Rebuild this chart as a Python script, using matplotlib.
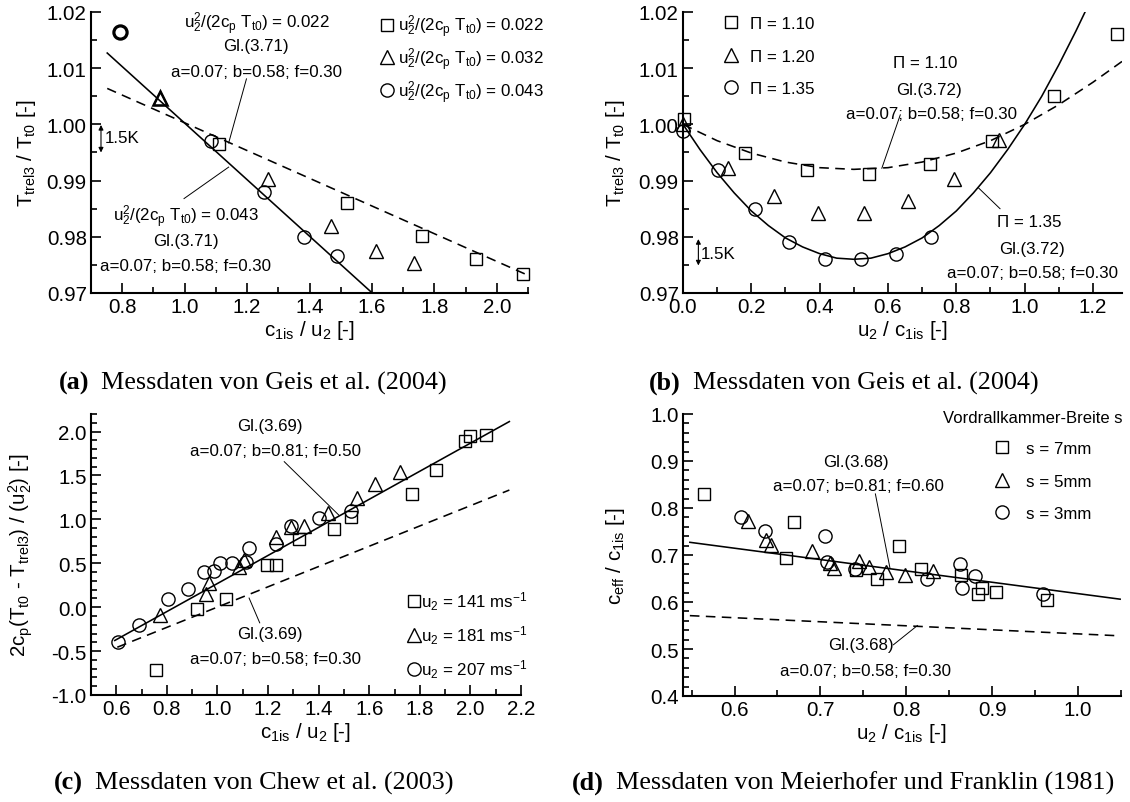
import matplotlib
matplotlib.use("Agg")
import matplotlib.pyplot as plt
from matplotlib.ticker import MultipleLocator, FormatStrFormatter

plt.rcParams['font.family'] = ['Liberation Sans', 'DejaVu Sans']
plt.rcParams['mathtext.fontset'] = 'custom'
plt.rcParams['mathtext.rm'] = 'Liberation Sans'
plt.rcParams['mathtext.it'] = 'Liberation Sans:italic'
plt.rcParams['mathtext.bf'] = 'Liberation Sans:bold'
plt.rcParams['axes.unicode_minus'] = False

# --- (a) Geis et al. (2004): T_trel3/T_t0 over c1is/u2 ---
a_sq_x = [1.109, 1.519, 1.762, 1.934, 2.083]
a_sq_y = [0.9966, 0.9860, 0.9801, 0.9761, 0.9734]
a_tri_x = [0.920, 1.267, 1.469, 1.612, 1.736]
a_tri_y = [1.0047, 0.9903, 0.9820, 0.9775, 0.9753]
a_cir_x = [0.792, 1.084, 1.255, 1.381, 1.488]
a_cir_y = [1.0164, 0.9971, 0.9880, 0.9800, 0.9766]
a_solid_x = [0.752, 1.599]
a_solid_y = [1.0127, 0.9701]
a_dash_x = [0.752, 2.102]
a_dash_y = [1.0064, 0.9731]
a_labels = ['u$_\\mathregular{2}^\\mathregular{2}$/(2c$_\\mathregular{p}$ T$_\\mathregular{t0}$) = 0.022',
            'u$_\\mathregular{2}^\\mathregular{2}$/(2c$_\\mathregular{p}$ T$_\\mathregular{t0}$) = 0.032',
            'u$_\\mathregular{2}^\\mathregular{2}$/(2c$_\\mathregular{p}$ T$_\\mathregular{t0}$) = 0.043']

# --- (b) Geis et al. (2004): T_trel3/T_t0 over u2/c1is ---
b_sq_x = [0.002, 0.181, 0.362, 0.543, 0.724, 0.905, 1.085, 1.269]
b_sq_y = [1.0010, 0.9949, 0.9919, 0.9911, 0.9930, 0.9970, 1.0050, 1.0160]
b_tri_x = [0.0, 0.132, 0.266, 0.396, 0.529, 0.659, 0.793, 0.925]
b_tri_y = [1.0001, 0.9922, 0.9872, 0.9842, 0.9842, 0.9863, 0.9902, 0.9972]
b_cir_x = [0.0, 0.103, 0.210, 0.311, 0.415, 0.520, 0.623, 0.726]
b_cir_y = [0.9989, 0.9918, 0.9850, 0.9790, 0.9760, 0.9760, 0.9770, 0.9800]
b_solid_x = [0.0, 0.05, 0.1, 0.15, 0.2, 0.25, 0.3, 0.35, 0.4, 0.45, 0.5, 0.55, 0.6,
             0.65, 0.7, 0.75, 0.8, 0.85, 0.9, 0.95, 1.0, 1.05, 1.1, 1.15, 1.18]
b_solid_y = [1.0000, 0.9955, 0.9914, 0.9878, 0.9846, 0.9820, 0.9798, 0.9782, 0.9770,
             0.9762, 0.9760, 0.9762, 0.9770, 0.9782, 0.9798, 0.9820, 0.9846, 0.9878,
             0.9914, 0.9955, 1.0000, 1.0050, 1.0106, 1.0166, 1.0204]
b_dash_x = [0.0, 0.1, 0.2, 0.3, 0.4, 0.5, 0.6, 0.7, 0.8, 0.9, 1.0, 1.1, 1.2, 1.285]
b_dash_y = [1.0000, 0.9971, 0.9949, 0.9933, 0.9923, 0.9920, 0.9923, 0.9933, 0.9949,
            0.9971, 1.0000, 1.0035, 1.0075, 1.0112]
b_labels = ['\u03a0 = 1.10', '\u03a0 = 1.20', '\u03a0 = 1.35']

# --- (c) Chew et al. (2003) ---
c_sq_x = [0.757, 0.920, 1.032, 1.195, 1.232, 1.324, 1.459, 1.528, 1.769, 1.863, 1.980, 1.998, 2.061]
c_sq_y = [-0.71, -0.02, 0.09, 0.48, 0.48, 0.78, 0.89, 1.03, 1.29, 1.56, 1.89, 1.95, 1.96]
c_tri_x = [0.771, 0.956, 0.968, 1.085, 1.104, 1.230, 1.292, 1.343, 1.438, 1.552, 1.622, 1.723]
c_tri_y = [-0.09, 0.15, 0.27, 0.46, 0.54, 0.80, 0.91, 0.92, 1.07, 1.24, 1.40, 1.54]
c_cir_x = [0.607, 0.690, 0.806, 0.885, 0.945, 0.986, 1.010, 1.059, 1.114, 1.125, 1.230, 1.292, 1.403, 1.528]
c_cir_y = [-0.40, -0.20, 0.09, 0.21, 0.40, 0.41, 0.50, 0.50, 0.52, 0.67, 0.72, 0.92, 1.02, 1.10]
c_solid_x = [0.594, 2.154]
c_solid_y = [-0.379, 2.114]
c_dash_x = [0.604, 2.154]
c_dash_y = [-0.456, 1.334]
c_labels = ['u$_\\mathregular{2}$ = 141 ms$^\\mathregular{-1}$',
            'u$_\\mathregular{2}$ = 181 ms$^\\mathregular{-1}$',
            'u$_\\mathregular{2}$ = 207 ms$^\\mathregular{-1}$']

# --- (d) Meierhofer und Franklin (1981) ---
d_sq_x = [0.564, 0.660, 0.669, 0.741, 0.766, 0.791, 0.817, 0.864, 0.883, 0.888, 0.905, 0.964]
d_sq_y = [0.830, 0.694, 0.770, 0.668, 0.650, 0.720, 0.670, 0.657, 0.618, 0.630, 0.621, 0.604]
d_tri_x = [0.616, 0.637, 0.643, 0.690, 0.711, 0.716, 0.745, 0.757, 0.776, 0.798, 0.831]
d_tri_y = [0.772, 0.732, 0.721, 0.709, 0.684, 0.673, 0.688, 0.674, 0.663, 0.657, 0.665]
d_cir_x = [0.608, 0.636, 0.705, 0.708, 0.740, 0.824, 0.862, 0.865, 0.880, 0.959]
d_cir_y = [0.780, 0.751, 0.741, 0.686, 0.670, 0.648, 0.680, 0.629, 0.655, 0.616]
d_solid_x = [0.548, 1.049]
d_solid_y = [0.727, 0.606]
d_dash_x = [0.548, 1.049]
d_dash_y = [0.571, 0.528]
d_labels = ['s = 7mm', 's = 5mm', 's = 3mm']

captions = [('(a)', 'Messdaten von Geis et al. (2004)'),
            ('(b)', 'Messdaten von Geis et al. (2004)'),
            ('(c)', 'Messdaten von Chew et al. (2003)'),
            ('(d)', 'Messdaten von Meierhofer und Franklin (1981)')]

W, H = 1130, 803
fig = plt.figure(figsize=(W / 100, H / 100), dpi=100)


def add_ax(left, right, top, bottom):
    return fig.add_axes([left / W, 1 - bottom / H, (right - left) / W, (bottom - top) / H])


def style(ax, xlim, ylim, xt, yt, xfmt, yfmt):
    ax.set_xlim(*xlim)
    ax.set_ylim(*ylim)
    ax.spines['top'].set_visible(False)
    ax.spines['right'].set_visible(False)
    for s in ('left', 'bottom'):
        ax.spines[s].set_linewidth(1.5)
    ax.xaxis.set_major_locator(MultipleLocator(xt[0]))
    ax.xaxis.set_minor_locator(MultipleLocator(xt[1]))
    ax.yaxis.set_major_locator(MultipleLocator(yt[0]))
    ax.yaxis.set_minor_locator(MultipleLocator(yt[1]))
    ax.xaxis.set_major_formatter(FormatStrFormatter(xfmt))
    ax.yaxis.set_major_formatter(FormatStrFormatter(yfmt))
    ax.tick_params(which='both', direction='in', width=1.2, labelsize=14.8, top=False, right=False)
    ax.tick_params(which='major', length=7, pad=3)
    ax.tick_params(which='minor', length=4)


mk = dict(ls='none', mfc='none', mec='k', mew=1.0, clip_on=False)
SQ, TR, CI = 8, 9.5, 9.5
FS = 12.2
lead = dict(color='k', lw=0.7)


def markers(ax, sx, sy, tx, ty, cx, cy, labels):
    h1, = ax.plot(sx, sy, marker='s', ms=SQ, label=labels[0], **mk)
    h2, = ax.plot(tx, ty, marker='^', ms=TR, label=labels[1], **mk)
    h3, = ax.plot(cx, cy, marker='o', ms=CI, label=labels[2], **mk)
    return [h1, h2, h3]


def model_lines(ax, sx, sy, dx, dy):
    ax.plot(sx, sy, color='k', lw=1.15)
    ax.plot(dx, dy, color='k', lw=1.15, dashes=(6, 4))


def k_arrow(ax, x, y0, y1, tx, ty):
    ax.annotate('', xy=(x, y0), xytext=(x, y1),
                arrowprops=dict(arrowstyle='<|-|>', lw=0.8, color='k', mutation_scale=7,
                                shrinkA=0, shrinkB=0))
    ax.text(tx, ty, '1.5K', fontsize=FS, ha='left', va='center')


# (a)
ax = add_ax(91, 528, 13, 294)
style(ax, (0.7, 2.1), (0.97, 1.02), (0.2, 0.1), (0.01, 0.005), '%.1f', '%.2f')
model_lines(ax, a_solid_x, a_solid_y, a_dash_x, a_dash_y)
hs = markers(ax, a_sq_x, a_sq_y, a_tri_x, a_tri_y, a_cir_x, a_cir_y, a_labels)
ax.plot(a_cir_x[:1], a_cir_y[:1], marker='o', ms=CI, ls='none', mfc='none', mec='k', mew=2.3, clip_on=False)
ax.plot(a_tri_x[:1], a_tri_y[:1], marker='^', ms=TR, ls='none', mfc='none', mec='k', mew=1.8, clip_on=False)
ax.legend(handles=hs, loc='upper left', bbox_to_anchor=(0.661, 0.999), frameon=False, fontsize=FS,
          handlelength=0.8, handletextpad=0.25, labelspacing=0.38, borderpad=0, borderaxespad=0)
ax.text(1.230, 1.0181, a_labels[0], fontsize=FS, ha='center', va='center')
ax.text(1.230, 1.0140, 'Gl.(3.71)', fontsize=FS, ha='center', va='center')
ax.text(1.230, 1.0094, 'a=0.07; b=0.58; f=0.30', fontsize=FS, ha='center', va='center')
ax.plot([1.198, 1.141], [1.0081, 0.9967], **lead)
ax.text(1.003, 0.9838, a_labels[2], fontsize=FS, ha='center', va='center')
ax.text(1.003, 0.9793, 'Gl.(3.71)', fontsize=FS, ha='center', va='center')
ax.text(1.003, 0.9749, 'a=0.07; b=0.58; f=0.30', fontsize=FS, ha='center', va='center')
ax.plot([0.998, 1.141], [0.9868, 0.9924], **lead)
k_arrow(ax, 0.732, 0.9999, 0.9950, 0.745, 0.9977)
ax.set_xlabel('c$_\\mathregular{1is}$ / u$_\\mathregular{2}$ [-]', fontsize=14.8, labelpad=1)
ax.set_ylabel('T$_\\mathregular{trel3}$ / T$_\\mathregular{t0}$ [-]', fontsize=14.8)
ax.yaxis.set_label_coords(-0.121, 0.5)

# (b)
ax = add_ax(683, 1122, 13, 294)
style(ax, (0.0, 1.285), (0.97, 1.02), (0.2, 0.1), (0.01, 0.005), '%.1f', '%.2f')
model_lines(ax, b_solid_x, b_solid_y, b_dash_x, b_dash_y)
hs = markers(ax, b_sq_x, b_sq_y, b_tri_x, b_tri_y, b_cir_x, b_cir_y, b_labels)
ax.legend(handles=hs, loc='upper left', bbox_to_anchor=(0.093, 0.985), frameon=False, fontsize=FS,
          handlelength=0.8, handletextpad=0.75, labelspacing=1.03, borderpad=0, borderaxespad=0)
ax.text(0.710, 1.0110, '\u03a0 = 1.10', fontsize=FS, ha='center', va='center')
ax.text(0.721, 1.0062, 'Gl.(3.72)', fontsize=FS, ha='center', va='center')
ax.text(0.726, 1.0020, 'a=0.07; b=0.58; f=0.30', fontsize=FS, ha='center', va='center')
ax.plot([0.636, 0.582], [1.0017, 0.9922], **lead)
ax.text(1.014, 0.9828, '\u03a0 = 1.35', fontsize=FS, ha='center', va='center')
ax.text(1.021, 0.9780, 'Gl.(3.72)', fontsize=FS, ha='center', va='center')
ax.text(1.024, 0.9737, 'a=0.07; b=0.58; f=0.30', fontsize=FS, ha='center', va='center')
ax.plot([0.928, 0.865], [0.9850, 0.9887], **lead)
k_arrow(ax, 0.045, 0.9796, 0.9749, 0.052, 0.9771)
ax.set_xlabel('u$_\\mathregular{2}$ / c$_\\mathregular{1is}$ [-]', fontsize=14.8, labelpad=1)
ax.set_ylabel('T$_\\mathregular{trel3}$ / T$_\\mathregular{t0}$ [-]', fontsize=14.8)
ax.yaxis.set_label_coords(-0.127, 0.5)

# (c)
ax = add_ax(91, 521, 415, 696)
style(ax, (0.5, 2.2), (-1.0, 2.2), (0.2, 0.1), (0.5, 0.1), '%.1f', '%.1f')
model_lines(ax, c_solid_x, c_solid_y, c_dash_x, c_dash_y)
hs = markers(ax, c_sq_x, c_sq_y, c_tri_x, c_tri_y, c_cir_x, c_cir_y, c_labels)
ax.legend(handles=hs, loc='upper left', bbox_to_anchor=(0.735, 0.375), frameon=False, fontsize=FS,
          handlelength=0.8, handletextpad=0.05, labelspacing=0.68, borderpad=0, borderaxespad=0)
ax.text(1.209, 2.069, 'Gl.(3.69)', fontsize=FS, ha='center', va='center')
ax.text(1.230, 1.783, 'a=0.07; b=0.81; f=0.50', fontsize=FS, ha='center', va='center')
ax.plot([1.264, 1.480], [1.657, 1.048], **lead)
ax.text(1.209, -0.303, 'Gl.(3.69)', fontsize=FS, ha='center', va='center')
ax.text(1.230, -0.581, 'a=0.07; b=0.58; f=0.30', fontsize=FS, ha='center', va='center')
ax.plot([1.167, 1.125], [-0.178, 0.104], **lead)
ax.set_xlabel('c$_\\mathregular{1is}$ / u$_\\mathregular{2}$ [-]', fontsize=14.8, labelpad=1)
ax.set_ylabel('2c$_\\mathregular{p}$(T$_\\mathregular{t0}$ - T$_\\mathregular{trel3}$) / (u$_\\mathregular{2}^\\mathregular{2}$) [-]',
              fontsize=14.8)
ax.yaxis.set_label_coords(-0.130, 0.5)

# (d)
ax = add_ax(683, 1121, 415, 697)
style(ax, (0.54, 1.05), (0.4, 1.0), (0.1, 0.05), (0.1, 0.02), '%.1f', '%.1f')
model_lines(ax, d_solid_x, d_solid_y, d_dash_x, d_dash_y)
hs = markers(ax, d_sq_x, d_sq_y, d_tri_x, d_tri_y, d_cir_x, d_cir_y, d_labels)
ax.legend(handles=hs, loc='upper left', bbox_to_anchor=(0.712, 0.904), frameon=False, fontsize=FS,
          handlelength=0.8, handletextpad=1.05, labelspacing=1.03, borderpad=0, borderaxespad=0)
ax.text(1.003, 0.989, 'Vordrallkammer-Breite s', fontsize=12, ha='right', va='center', transform=ax.transAxes)
ax.text(0.741, 0.899, 'Gl.(3.68)', fontsize=FS, ha='center', va='center')
ax.text(0.744, 0.848, 'a=0.07; b=0.81; f=0.60', fontsize=FS, ha='center', va='center')
ax.plot([0.764, 0.781], [0.830, 0.672], **lead)
ax.text(0.747, 0.510, 'Gl.(3.68)', fontsize=FS, ha='center', va='center')
ax.text(0.752, 0.455, 'a=0.07; b=0.58; f=0.30', fontsize=FS, ha='center', va='center')
ax.plot([0.785, 0.813], [0.509, 0.550], **lead)
ax.set_xlabel('u$_\\mathregular{2}$ / c$_\\mathregular{1is}$ [-]', fontsize=14.8, labelpad=1)
ax.set_ylabel('c$_\\mathregular{eff}$ / c$_\\mathregular{1is}$ [-]', fontsize=14.8)
ax.yaxis.set_label_coords(-0.128, 0.5)

# captions under each panel
cap_pos = [(59, 383), (649, 383), (54, 783), (572, 783)]
for (tag, txt), (cx, cy) in zip(captions, cap_pos):
    t = fig.text(cx / W, 1 - cy / H, tag, fontfamily='Liberation Serif', fontweight='bold',
                 fontsize=18.8, ha='left', va='center')
    ax.annotate(txt, xy=(1, 0.5), xycoords=t, xytext=(8.5, 0), textcoords='offset points',
                fontfamily='Liberation Serif', fontsize=18.8, ha='left', va='center')

fig.savefig('out.png', dpi=100)
